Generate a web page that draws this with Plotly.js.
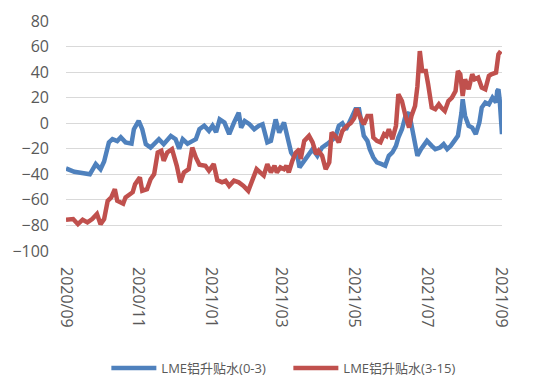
<!DOCTYPE html>
<html>
<head>
<meta charset="utf-8">
<script src="https://cdn.plot.ly/plotly-3.0.1.min.js"></script>
<style>html,body{margin:0;padding:0;background:#fff;}#chart{width:550px;height:385px;}</style>
</head>
<body>
<div id="chart"></div>
<script>
var seriesNames = ["LME铝升贴水(0-3)", "LME铝升贴水(3-15)"];

var blueDates = ["2020-09-01","2020-09-08","2020-09-21","2020-09-26","2020-09-30","2020-10-03","2020-10-07","2020-10-10","2020-10-14","2020-10-17","2020-10-21","2020-10-26","2020-10-28","2020-11-01","2020-11-04","2020-11-07","2020-11-11","2020-11-15","2020-11-18","2020-11-22","2020-11-28","2020-12-02","2020-12-05","2020-12-08","2020-12-12","2020-12-16","2020-12-19","2020-12-22","2020-12-26","2020-12-30","2021-01-02","2021-01-05","2021-01-08","2021-01-12","2021-01-16","2021-01-20","2021-01-24","2021-01-26","2021-01-29","2021-02-02","2021-02-06","2021-02-10","2021-02-13","2021-02-17","2021-02-20","2021-02-24","2021-02-27","2021-03-03","2021-03-06","2021-03-09","2021-03-11","2021-03-14","2021-03-16","2021-03-20","2021-03-23","2021-03-27","2021-03-31","2021-04-04","2021-04-08","2021-04-12","2021-04-15","2021-04-18","2021-04-21","2021-04-24","2021-04-27","2021-05-02","2021-05-05","2021-05-07","2021-05-09","2021-05-12","2021-05-14","2021-05-17","2021-05-20","2021-05-24","2021-05-27","2021-05-30","2021-06-02","2021-06-05","2021-06-07","2021-06-10","2021-06-13","2021-06-16","2021-06-18","2021-06-21","2021-06-23","2021-06-26","2021-07-01","2021-07-05","2021-07-08","2021-07-12","2021-07-15","2021-07-18","2021-07-21","2021-07-24","2021-07-27","2021-07-30","2021-07-31","2021-08-02","2021-08-05","2021-08-08","2021-08-11","2021-08-14","2021-08-16","2021-08-19","2021-08-22","2021-08-25","2021-08-28","2021-08-29","2021-08-30","2021-08-31","2021-09-01","2021-09-02"];
var blueValues = [-35.4,-38,-40,-32,-36,-30,-15,-12.5,-14,-11,-15,-16,-4.7,1.8,-4.7,-16.4,-19,-15,-12.5,-16.4,-10,-12.5,-20,-12.5,-16,-14,-12.5,-4.7,-2,-6,-2,-7,3,0.5,-8.6,0.5,8.3,-3.4,1.8,-0.8,-4.7,-2,-0.8,-15,-13.8,3,-7.3,0.5,-9.9,-22.9,-25.5,-24.2,-34.6,-29.4,-25.5,-20.3,-25.5,-19,-16.4,-13.8,-11.2,-2,0,-5,0.5,11,11,-0.8,-9.9,-13.8,-20.3,-26.8,-30.7,-32,-33.3,-25.5,-22.9,-17.7,-11.2,-4.7,5.7,8.3,-2,-15,-25.5,-20.3,-13.8,-17.7,-20.3,-19,-16.4,-20.3,-17.7,-13.8,-9.9,8.3,18.8,5.7,-2,-3.4,-8.6,0.5,12.3,16.2,14.8,20,16.2,25.2,26.6,18.8,0.5,-8.6];

var redDates = ["2020-09-01","2020-09-07","2020-09-11","2020-09-15","2020-09-19","2020-09-23","2020-09-27","2020-09-30","2020-10-03","2020-10-06","2020-10-09","2020-10-12","2020-10-14","2020-10-19","2020-10-21","2020-10-27","2020-10-29","2020-11-02","2020-11-04","2020-11-08","2020-11-11","2020-11-14","2020-11-17","2020-11-20","2020-11-22","2020-11-25","2020-11-29","2020-12-03","2020-12-06","2020-12-09","2020-12-13","2020-12-16","2020-12-19","2020-12-22","2020-12-27","2020-12-30","2021-01-03","2021-01-06","2021-01-10","2021-01-13","2021-01-16","2021-01-20","2021-01-24","2021-01-28","2021-02-01","2021-02-04","2021-02-08","2021-02-11","2021-02-14","2021-02-17","2021-02-20","2021-02-23","2021-02-25","2021-02-28","2021-03-03","2021-03-05","2021-03-07","2021-03-10","2021-03-13","2021-03-16","2021-03-17","2021-03-20","2021-03-24","2021-03-27","2021-03-30","2021-04-01","2021-04-04","2021-04-07","2021-04-10","2021-04-12","2021-04-15","2021-04-18","2021-04-21","2021-04-25","2021-04-28","2021-05-01","2021-05-03","2021-05-06","2021-05-09","2021-05-12","2021-05-15","2021-05-17","2021-05-20","2021-05-23","2021-05-26","2021-05-28","2021-05-30","2021-06-02","2021-06-05","2021-06-07","2021-06-10","2021-06-13","2021-06-16","2021-06-18","2021-06-21","2021-06-23","2021-06-25","2021-06-27","2021-06-30","2021-07-02","2021-07-05","2021-07-08","2021-07-11","2021-07-13","2021-07-16","2021-07-19","2021-07-22","2021-07-25","2021-07-27","2021-07-29","2021-07-31","2021-08-02","2021-08-05","2021-08-08","2021-08-10","2021-08-13","2021-08-16","2021-08-19","2021-08-22","2021-08-24","2021-08-28","2021-08-30","2021-09-01"];
var redValues = [-75.5,-75,-79,-75.5,-77.6,-75,-71,-79,-75,-60.7,-58,-51.6,-60.7,-63,-58,-54,-47.7,-42.4,-52.9,-51.6,-43.8,-39.8,-22.9,-21.6,-29.4,-22.9,-20.3,-33.3,-46.3,-38.5,-35.9,-19,-26.8,-32.5,-33.3,-37.2,-32,-44.5,-46.3,-45,-49,-45,-46.3,-49,-52.9,-46.3,-36,-38.5,-41,-32,-38.5,-33.3,-38.5,-34.6,-36,-33.3,-38.5,-29.4,-22.9,-20.3,-28,-13.8,-9.9,-15,-24.2,-21.6,-25.5,-36,-30.7,-7.3,-9.9,-15,-6,-2,0,4,11.5,4.4,-0.8,5.7,5.7,-11.2,-13.8,-15,-8.6,-9.9,-4.7,-12.5,-2,22.7,17.4,5.7,-3.4,5.7,13.5,29,56.5,40.9,40.9,30.5,12.3,11,14.8,12.3,9.6,17.4,20,25.2,40.9,38.3,21.3,34.4,26.6,38.3,34.4,35.7,27.9,26.6,37,38.3,39.6,53.9,56.5];

var tickVals = ["2020-09-01","2020-11-01","2021-01-01","2021-03-01","2021-05-01","2021-07-01","2021-09-01"];
var tickText = ["2020/09","2020/11","2021/01","2021/03","2021/05","2021/07","2021/09"];
var yTicks = [80,60,40,20,0,-20,-40,-60,-80,-100];

var traces = [
  {x: blueDates, y: blueValues, name: seriesNames[0], type: "scatter", mode: "lines",
   line: {color: "#4F81BD", width: 4.5}},
  {x: redDates, y: redValues, name: seriesNames[1], type: "scatter", mode: "lines",
   line: {color: "#C0504D", width: 4.5}}
];

var layout = {
  width: 550, height: 385,
  margin: {l: 66, r: 48, t: 21, b: 134, autoexpand: false},
  paper_bgcolor: "#ffffff", plot_bgcolor: "#ffffff",
  font: {family: "Open Sans, Noto Sans CJK SC, sans-serif", size: 16, color: "#595959"},
  showlegend: true,
  legend: {orientation: "h", x: 0.51, xanchor: "center", y: -0.509, yanchor: "middle",
    font: {family: "Open Sans, Noto Sans CJK SC, sans-serif", size: 13, color: "#595959"},
    itemwidth: 45, entrywidth: 122, tracegroupgap: 0},
  xaxis: {type: "date", range: ["2020-09-01", "2021-09-02"], automargin: false,
    tickmode: "array", tickvals: tickVals, ticktext: tickText, tickangle: 90,
    showgrid: false, zeroline: false, showline: false, ticks: "", ticklabelstandoff: 15,
    tickfont: {size: 16, color: "#595959"}},
  yaxis: {range: [-100, 80], tickmode: "array", tickvals: yTicks, automargin: false,
    showgrid: true, gridcolor: "#d9d9d9", gridwidth: 1, zeroline: false, showline: false,
    ticks: "", ticklabelstandoff: 16, tickfont: {size: 16, color: "#595959"}}
};

Plotly.newPlot("chart", traces, layout, {displayModeBar: false, staticPlot: true});
</script>
</body>
</html>
